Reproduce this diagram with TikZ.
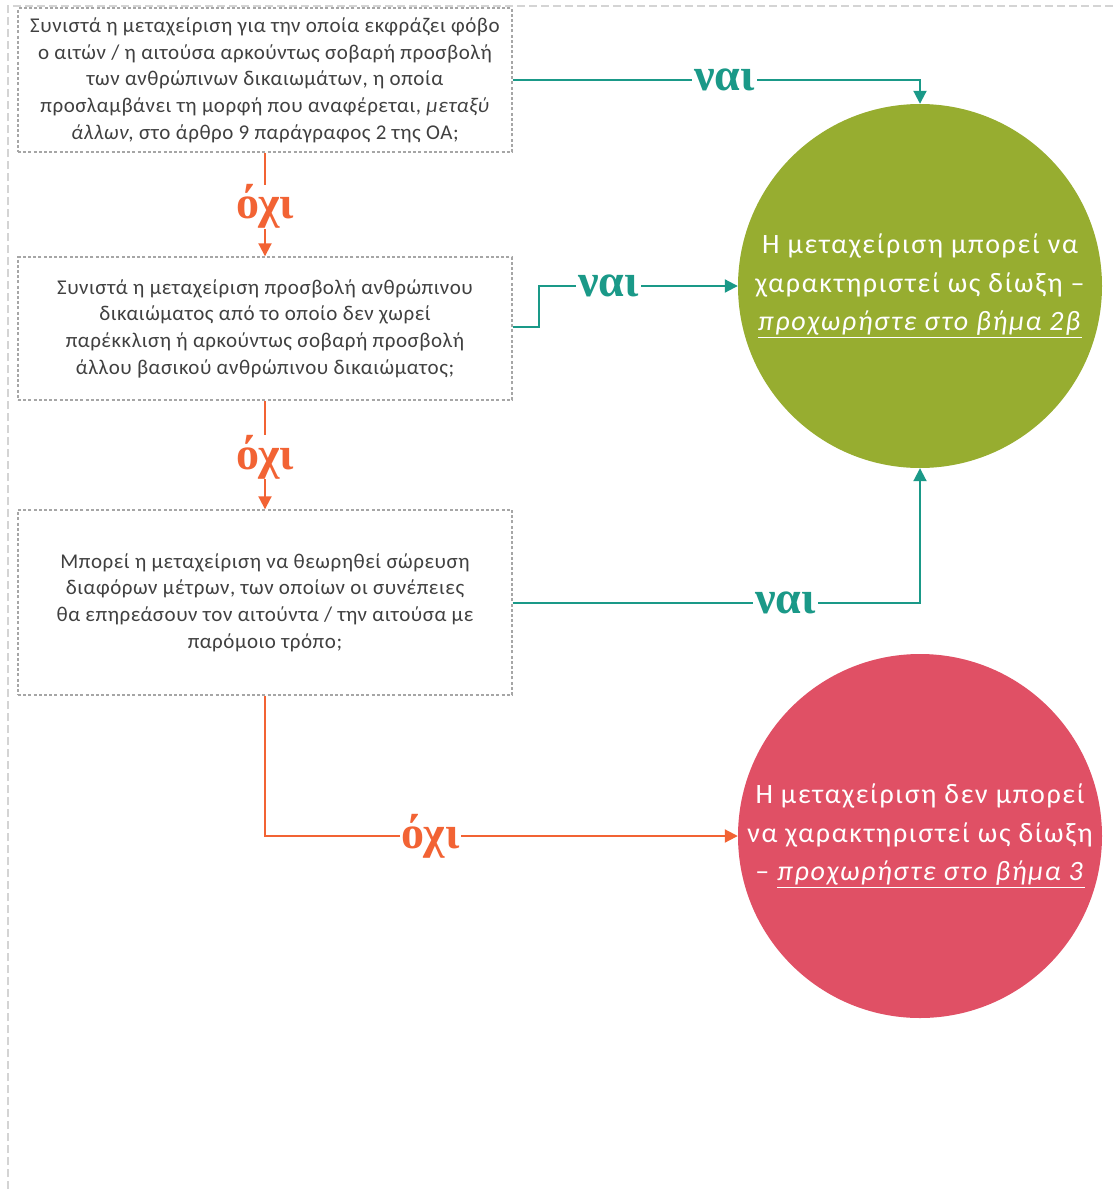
\documentclass[tikz,border=0pt]{standalone}
\usepackage{fontspec}
\setmainfont{Carlito}
\newfontfamily\boxfont[LetterSpace=2.6]{Carlito}
\newfontfamily\circfont[LetterSpace=6]{Carlito}
\newfontfamily\lblfont{Liberation Serif}
\usetikzlibrary{arrows.meta}
\definecolor{tealc}{HTML}{1A9988}
\definecolor{orangec}{HTML}{F26334}
\definecolor{greenc}{HTML}{97AD30}
\definecolor{redc}{HTML}{E05065}
\definecolor{boxtext}{HTML}{404040}
\definecolor{boxline}{HTML}{A6A6A6}
\definecolor{frameline}{HTML}{D4D4D4}
\tikzset{
  qbox/.style={draw=boxline, line width=1.4pt, dash pattern=on 3pt off 2.2pt,
    minimum width=494pt, inner sep=0pt, align=center, text=boxtext,
    font=\boxfont\fontsize{21}{26.7}\selectfont},
  result/.style={circle, inner sep=0pt, minimum size=364pt, align=center, text=white,
    font=\circfont\fontsize{28}{38.5}\selectfont},
  yesline/.style={draw=tealc, line width=2pt, -{Triangle[length=13pt,width=13pt]}},
  noline/.style={draw=orangec, line width=2pt, -{Triangle[length=13pt,width=13pt]}},
  yeslbl/.style={fill=white, text=tealc, inner xsep=2pt, inner ysep=0pt, font=\lblfont\fontsize{46}{46}\selectfont\bfseries},
  nolbl/.style={fill=white, text=orangec, inner xsep=2pt, inner ysep=0pt, font=\lblfont\fontsize{46}{46}\selectfont\bfseries},
}
\begin{document}
\begin{tikzpicture}[x=1pt,y=-1pt]
\useasboundingbox (0,0) rectangle (1115,1189);
% outer frame
\draw[frameline, line width=1.5pt, dash pattern=on 8pt off 4pt] (8,1189) -- (8,6) -- (1115,6);

% question boxes
\node[qbox, minimum height=144pt] (b1) at (265,80)
  {Συνιστά η μεταχείριση για την οποία εκφράζει φόβο\\
   ο αιτών / η αιτούσα αρκούντως σοβαρή προσβολή\\
   των ανθρώπινων δικαιωμάτων, η οποία\\
   προσλαμβάνει τη μορφή που αναφέρεται, \textit{μεταξύ}\\
   \textit{άλλων}, στο άρθρο 9 παράγραφος 2 της ΟΑ;};
\node[qbox, minimum height=143pt] (b2) at (265,328.5)
  {Συνιστά η μεταχείριση προσβολή ανθρώπινου\\
   δικαιώματος από το οποίο δεν χωρεί\\
   παρέκκλιση ή αρκούντως σοβαρή προσβολή\\
   άλλου βασικού ανθρώπινου δικαιώματος;};
\node[qbox, minimum height=185pt] (b3) at (265,602.5)
  {Μπορεί η μεταχείριση να θεωρηθεί σώρευση\\
   διαφόρων μέτρων, των οποίων οι συνέπειες\\
   θα επηρεάσουν τον αιτούντα / την αιτούσα με\\
   παρόμοιο τρόπο;};

% result circles
\node[result, fill=greenc] (c1) at (920,286)
  {Η μεταχείριση μπορεί να\\
   χαρακτηριστεί ως δίωξη –\\
   \underline{\textit{προχωρήστε στο βήμα 2β}}};
\node[result, fill=redc] (c2) at (920,836)
  {Η μεταχείριση δεν μπορεί\\
   να χαρακτηριστεί ως δίωξη\\
   – \underline{\textit{προχωρήστε στο βήμα 3}}};

% yes connectors
\path[yesline] (b1.east) -| node[yeslbl, pos=0.26] (y1) {ναι} (c1.north);
\path[yesline] (b2.east |- 0,327) -- ++(26,0) |- node[yeslbl, pos=0.675] (y2) {ναι} (c1.west);
\path[yesline] (b3.east) -| node[yeslbl, pos=0.335] (y3) {ναι} (c1.south);

% no connectors
\path[noline] (b1.south) -- node[nolbl, pos=0.52] (n1) {όχι} (b2.north);
\path[noline] (b2.south) -- node[nolbl, pos=0.52] (n2) {όχι} (b3.north);
\path[noline] (b3.south) |- node[nolbl, pos=0.675] (n3) {όχι} (c2.west);
\end{tikzpicture}
\end{document}
